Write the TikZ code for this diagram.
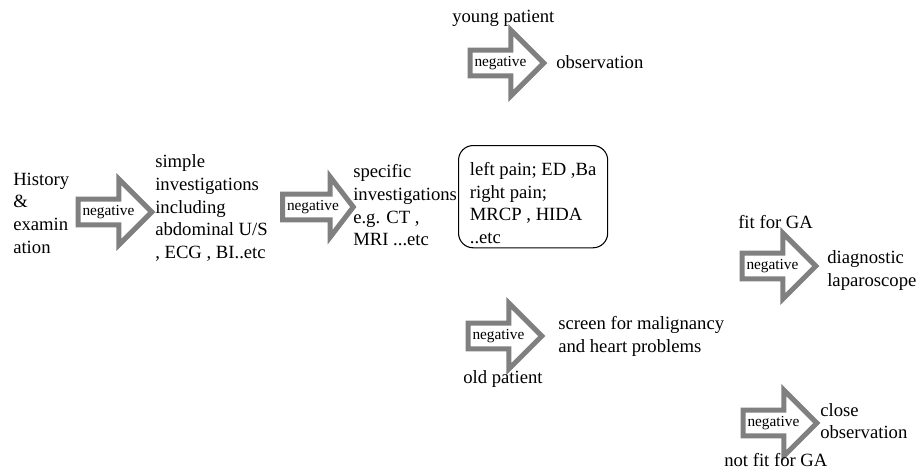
\documentclass[tikz,border=0pt]{standalone}
\usepackage{fontspec}
\setmainfont{Liberation Serif}
\usepackage{tikz}
\usetikzlibrary{shapes.arrows}
\definecolor{arrowgray}{RGB}{128,128,128}

\begin{document}
\begin{tikzpicture}[x=0.75pt,y=-0.75pt,font=\fontsize{14}{17}\selectfont,
  txt/.style={anchor=west,inner sep=0pt,align=left},
  neg/.style={single arrow,draw=arrowgray,line width=3.75pt,fill=white,
    font=\fontsize{11.5}{12}\selectfont,anchor=tail,
    text height=7pt,text depth=2pt,inner xsep=1.5pt,inner ysep=3.25pt,
    single arrow head extend=15pt,single arrow tip angle=90}]
\useasboundingbox (0,0) rectangle (923,471);
\node[txt] (history) at (13,213) {History\\\&\\examin\\ation};
\node[neg] (neg1) at (75.5,212) {negative};
\node[txt] (simple) at (155,208) {simple\\investigations\\including\\abdominal U/S\\, ECG , BI..etc};
\node[neg,single arrow head extend=13pt,single arrow tip angle=105] (neg2) at (280,207) {negative};
\node[txt] (specific) at (353,205.5) {specific\\investigations\\e.g. CT ,\\MRI ...etc};
\node[draw,rounded corners=11pt,line width=0.8pt,anchor=north west,inner xsep=8.5pt,inner ysep=3pt,align=left] (tests) at (458,145) {\rule{0pt}{19.5pt}left pain; ED ,Ba\\right pain;\\MRCP , HIDA\\..etc};
\node[txt] (young) at (452,18) {young patient};
\node[neg] (neg3) at (467.5,63) {negative};
\node[txt] (observe) at (556,62) {observation};
\node[neg] (neg4) at (465.5,336) {negative};
\node[txt] (screen) at (558,336.5) {screen for malignancy\\and heart problems};
\node[txt] (old) at (463,379) {old patient};
\node[txt] (fit) at (738,222) {fit for GA};
\node[neg] (neg5) at (739.5,266) {negative};
\node[txt] (diag) at (827,270.5) {diagnostic\\laparoscope};
\node[neg] (neg6) at (740.5,423) {negative};
\node[txt] (close) at (820,421) {close\\observation};
\node[txt] (notfit) at (724,460) {not fit for GA};
\end{tikzpicture}
\end{document}
